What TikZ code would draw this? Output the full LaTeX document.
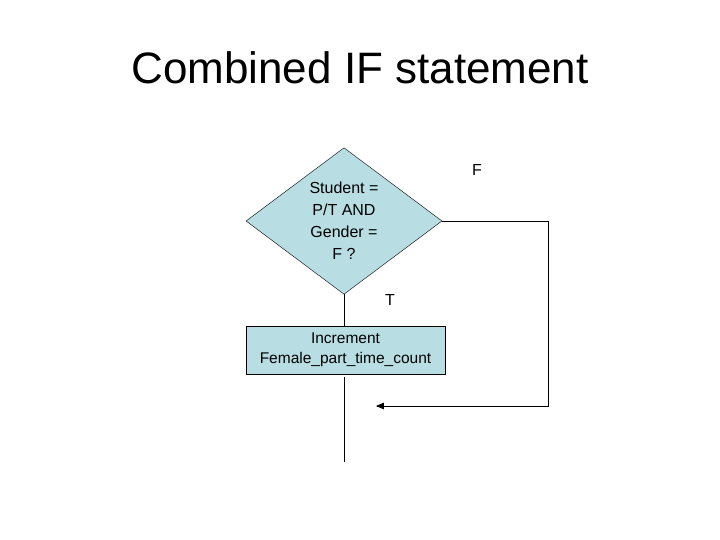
\documentclass[tikz,border=0pt]{standalone}
\usepackage{fontspec}
\setmainfont{Liberation Sans}
\usetikzlibrary{shapes.geometric,arrows}
\definecolor{boxblue}{RGB}{184,222,228}
\tikzset{
  decision/.style={draw,diamond,fill=boxblue,minimum width=196pt,minimum height=142pt,inner sep=0pt,align=center,font=\fontsize{16}{22}\selectfont},
  process/.style={draw,rectangle,fill=boxblue,minimum width=199pt,minimum height=48pt,inner sep=0pt,align=center,font=\fontsize{15.5}{20}\selectfont},
  flow/.style={line width=0.8pt},
  lbl/.style={font=\fontsize{16}{18}\selectfont}
}
\begin{document}
\begin{tikzpicture}[x=1pt,y=-1pt]
\useasboundingbox (0,0) rectangle (720,540);
\node (title) at (360,68) {\fontsize{44}{52}\selectfont Combined IF statement};
\node[decision] (test) at (344,221) {Student =\\ P/T AND\\ Gender =\\ F ?};
\node[process] (inc) at (345.5,350) {Increment\\ Female\_part\_time\_count};
\coordinate (c1) at (548,221);
\coordinate (c2) at (548,406);
\coordinate (join) at (376,406);
\coordinate (end) at (344,462);
\coordinate (below) at (344,377);
\draw[flow] (test.south) -- (test.south |- inc.north);
\draw[flow] (below) -- (end);
\draw[flow,-triangle 45] (test.east) -- (c1) -- (c2) -- (join);
\node[lbl] (f) at (477,170) {F};
\node[lbl] (t) at (390,300) {T};
\end{tikzpicture}
\end{document}
